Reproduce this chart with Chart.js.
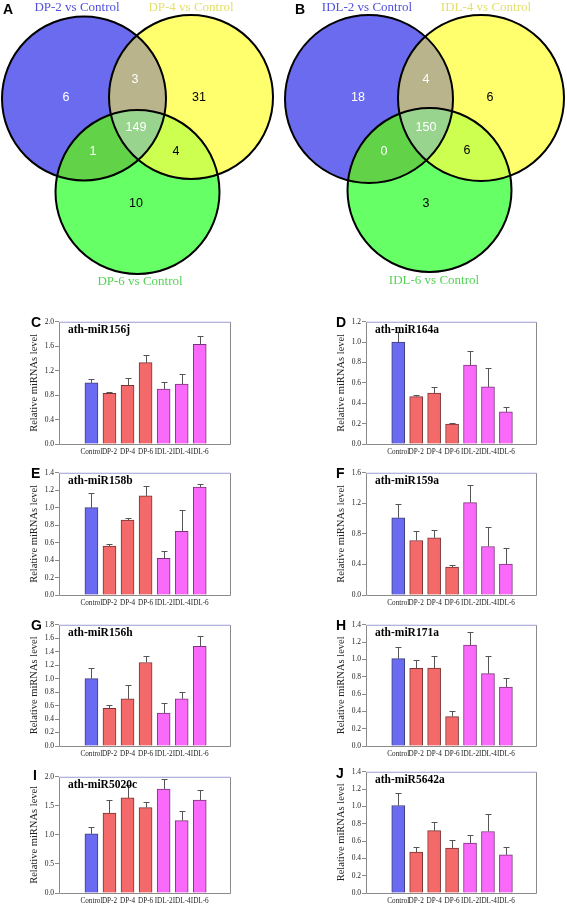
<!DOCTYPE html>
<html><head><meta charset="utf-8">
<script src="https://cdn.jsdelivr.net/npm/chart.js@4.4.1/dist/chart.umd.min.js"></script>
<style>
html,body{margin:0;padding:0;background:#fff;}
body{width:567px;height:907px;overflow:hidden;position:relative;}
canvas{position:absolute;}
.lt{position:absolute;font:bold 14px 'Liberation Sans',Arial,sans-serif;line-height:14px;color:#000;}
.vl{position:absolute;font:13px 'Liberation Serif','Times New Roman',serif;line-height:13px;white-space:nowrap;transform:translateX(-50%);}
</style></head><body>
<script>
// ---------- DATA ----------
const categories = ['Control','DP-2','DP-4','DP-6','IDL-2','IDL-4','IDL-6'];
const groups = [0,1,1,1,2,2,2];

// Venn counts: [only1, 1&2, only2, all, 1&3, 2&3, only3]
const vennCountsA = [6, 3, 31, 149, 1, 4, 10];
const vennCountsB = [18, 4, 6, 150, 0, 6, 3];
const vennSetsA = ['DP-2 vs Control','DP-4 vs Control','DP-6 vs Control'];
const vennSetsB = ['IDL-2 vs Control','IDL-4 vs Control','IDL-6 vs Control'];

const miR156j = [1.00, 0.83, 0.96, 1.33, 0.90, 0.98, 1.63];
const miR156jErr = [0.06, 0.02, 0.12, 0.12, 0.12, 0.16, 0.13];
const miR164a = [1.00, 0.465, 0.50, 0.195, 0.775, 0.56, 0.315];
const miR164aErr = [0.10, 0.02, 0.06, 0.015, 0.135, 0.185, 0.045];
const miR158b = [1.00, 0.56, 0.857, 1.135, 0.42, 0.73, 1.235];
const miR158bErr = [0.17, 0.02, 0.023, 0.115, 0.08, 0.245, 0.035];
const miR159a = [1.01, 0.713, 0.748, 0.366, 1.209, 0.635, 0.404];
const miR159aErr = [0.177, 0.122, 0.109, 0.024, 0.234, 0.252, 0.206];
const miR156h = [1.00, 0.56, 0.70, 1.24, 0.49, 0.70, 1.48];
const miR156hErr = [0.16, 0.045, 0.21, 0.09, 0.15, 0.10, 0.15];
const miR171a = [1.008, 0.896, 0.90, 0.34, 1.165, 0.835, 0.68];
const miR171aErr = [0.138, 0.10, 0.138, 0.06, 0.15, 0.205, 0.10];
const miR5020c = [1.017, 1.375, 1.636, 1.47, 1.79, 1.244, 1.597];
const miR5020cErr = [0.123, 0.225, 0.222, 0.10, 0.17, 0.171, 0.183];
const miR5642a = [1.01, 0.473, 0.72, 0.52, 0.577, 0.71, 0.44];
const miR5642aErr = [0.147, 0.057, 0.10, 0.087, 0.091, 0.199, 0.095];

const ticks20s4 = [0, 0.4, 0.8, 1.2, 1.6, 2.0];
const ticks12 = [0, 0.2, 0.4, 0.6, 0.8, 1.0, 1.2];
const ticks14 = [0, 0.2, 0.4, 0.6, 0.8, 1.0, 1.2, 1.4];
const ticks16s4 = [0, 0.4, 0.8, 1.2, 1.6];
const ticks18 = [0, 0.2, 0.4, 0.6, 0.8, 1.0, 1.2, 1.4, 1.6, 1.8];
const ticks20s5 = [0, 0.5, 1.0, 1.5, 2.0];

// ---------- STYLE / LAYOUT ----------
const SERIF = "'Liberation Serif','Times New Roman',serif";
const SANS = "'Liberation Sans',Arial,sans-serif";
const barFill = ['#6b6bf2', '#f46a6a', '#fa6afa'];
const barEdge = ['#40407a', '#7a3434', '#7a347a'];

function addDiv(cls, text, x, y, color) {
  const d = document.createElement('div');
  d.className = cls; d.textContent = text;
  d.style.left = x + 'px'; d.style.top = y + 'px';
  if (color) d.style.color = color;
  document.body.appendChild(d);
}
function addCanvas(x, y, w, h) {
  const c = document.createElement('canvas');
  c.width = w; c.height = h;
  c.style.left = x + 'px'; c.style.top = y + 'px';
  c.style.width = w + 'px'; c.style.height = h + 'px';
  document.body.appendChild(c);
  return c;
}

// ---------- VENN ----------
const vennPlugin = {
  id: 'vennDraw',
  afterDatasetsDraw(chart, args, opts) {
    const ctx = chart.ctx, xs = chart.scales.x, ys = chart.scales.y;
    const circ = opts.geom.map(g => ({
      x: xs.getPixelForValue(g[0]), y: ys.getPixelForValue(g[1]),
      r: xs.getPixelForValue(g[0] + g[2]) - xs.getPixelForValue(g[0])
    }));
    const path = (c) => { ctx.beginPath(); ctx.arc(c.x, c.y, c.r, 0, Math.PI * 2); };
    const fillC = (c, col) => { path(c); ctx.fillStyle = col; ctx.fill(); };
    ctx.save();
    fillC(circ[0], '#6b6bf0');
    fillC(circ[1], '#ffff6e');
    fillC(circ[2], '#66ff66');
    ctx.save(); path(circ[0]); ctx.clip(); fillC(circ[1], '#b9b48c'); ctx.restore();
    ctx.save(); path(circ[0]); ctx.clip(); fillC(circ[2], '#62d248'); ctx.restore();
    ctx.save(); path(circ[1]); ctx.clip(); fillC(circ[2], '#cdff50'); ctx.restore();
    ctx.save(); path(circ[0]); ctx.clip(); path(circ[1]); ctx.clip(); fillC(circ[2], '#98d48e'); ctx.restore();
    ctx.lineWidth = 2; ctx.strokeStyle = '#000';
    circ.forEach(c => { path(c); ctx.stroke(); });
    ctx.font = '12.5px ' + SANS;
    ctx.textAlign = 'center'; ctx.textBaseline = 'middle';
    const white = [true, true, false, true, true, false, false];
    opts.counts.forEach((v, i) => {
      const p = opts.pos[i];
      ctx.fillStyle = white[i] ? '#ffffff' : '#000000';
      ctx.fillText(String(v), xs.getPixelForValue(p[0]), ys.getPixelForValue(p[1]));
    });
    ctx.restore();
  }
};

function makeVenn(left, counts, geom, pos) {
  const cv = addCanvas(left, 0, 283, 290);
  new Chart(cv, {
    type: 'scatter',
    data: { datasets: [{ data: geom.map(g => ({ x: g[0], y: g[1] })), pointRadius: 0 }] },
    options: {
      responsive: false, animation: false, devicePixelRatio: 1,
      layout: { padding: 0 },
      plugins: { legend: { display: false }, tooltip: { enabled: false },
        vennDraw: { geom, counts, pos } },
      scales: {
        x: { type: 'linear', display: false, min: 0, max: 283 },
        y: { type: 'linear', display: false, min: 0, max: 290, reverse: true }
      }
    },
    plugins: [vennPlugin]
  });
}

makeVenn(0, vennCountsA,
  [[84, 98.5, 82], [191, 97, 82], [137.5, 192, 82]],
  [[66, 98], [135, 80], [199, 98], [136, 128], [93, 152], [176, 152], [136, 204]]);
makeVenn(283, vennCountsB,
  [[86, 99, 84], [198, 98, 83], [146.5, 190, 82]],
  [[75, 98], [143, 80], [207, 98], [143, 128], [101, 152], [184, 151], [143, 204]]);

addDiv('lt', 'A', 3, 2);
addDiv('lt', 'B', 295, 2);
addDiv('vl', vennSetsA[0], 77, 0, '#5050dc');
addDiv('vl', vennSetsA[1], 191, 0, '#e4de6a');
addDiv('vl', vennSetsA[2], 140, 273.5, '#55d255');
addDiv('vl', vennSetsB[0], 367, 0, '#5050dc');
addDiv('vl', vennSetsB[1], 486, 0, '#e4de6a');
addDiv('vl', vennSetsB[2], 434, 273, '#55d255');

// ---------- BARS ----------
const framePlugin = {
  id: 'frameBox',
  afterDraw(chart) {
    const a = chart.chartArea, ctx = chart.ctx;
    ctx.save();
    ctx.lineWidth = 1;
    ctx.strokeStyle = '#8a8a8a';
    ctx.beginPath();
    ctx.moveTo(a.left + 0.5, a.top + 0.5); ctx.lineTo(a.left + 0.5, a.bottom + 0.5);
    ctx.lineTo(a.right + 0.5, a.bottom + 0.5); ctx.lineTo(a.right + 0.5, a.top + 0.5);
    ctx.stroke();
    ctx.strokeStyle = '#9a9ad2';
    ctx.beginPath(); ctx.moveTo(a.left + 0.5, a.top + 0.5); ctx.lineTo(a.right + 0.5, a.top + 0.5); ctx.stroke();
    ctx.restore();
  }
};
const errPlugin = {
  id: 'errBars',
  afterDatasetsDraw(chart, args, opts) {
    const ctx = chart.ctx, ys = chart.scales.y;
    const meta = chart.getDatasetMeta(0);
    const vals = chart.data.datasets[0].data;
    ctx.save();
    ctx.strokeStyle = '#555'; ctx.lineWidth = 1;
    meta.data.forEach((el, i) => {
      const x = Math.round(el.x) + 0.5;
      const y0 = el.y;
      const y1 = Math.round(ys.getPixelForValue(vals[i].y + opts.errs[i])) + 0.5;
      ctx.beginPath();
      ctx.moveTo(x, y0); ctx.lineTo(x, y1);
      ctx.moveTo(x - 3, y1); ctx.lineTo(x + 3, y1);
      ctx.stroke();
    });
    ctx.restore();
  }
};
const titlePlugin = {
  id: 'panelTitle',
  afterDraw(chart, args, opts) {
    const ctx = chart.ctx, a = chart.chartArea;
    ctx.save();
    ctx.font = 'bold 11.5px ' + SERIF;
    ctx.fillStyle = '#000'; ctx.textAlign = 'left'; ctx.textBaseline = 'alphabetic';
    ctx.fillText(opts.text, a.left + 9, a.top + 11.5);
    ctx.restore();
  }
};

function makeBar(plotLeft, plotTop, plotW, plotH, title, values, errs, yTicks) {
  const W = 48 + plotW + 4, H = 4 + plotH + 16;
  const cv = addCanvas(plotLeft - 48, plotTop - 4, W, H);
  new Chart(cv, {
    type: 'bar',
    data: { datasets: [{
      data: values.map((v, i) => ({ x: i, y: v })),
      backgroundColor: groups.map(g => barFill[g]),
      borderColor: groups.map(g => barEdge[g]),
      borderWidth: 1, borderSkipped: 'start', barThickness: 13
    }] },
    options: {
      responsive: false, animation: false, devicePixelRatio: 1,
      layout: { padding: { top: 4, right: 4, left: 0, bottom: 0 } },
      plugins: { legend: { display: false }, tooltip: { enabled: false },
        errBars: { errs }, panelTitle: { text: title } },
      scales: {
        x: {
          type: 'linear', min: -1.12, max: 7.0,
          afterBuildTicks: s => { s.ticks = categories.map((c, i) => ({ value: i })); },
          afterFit: s => { s.height = 16; },
          ticks: { callback: v => categories[v] ?? '', autoSkip: false, maxRotation: 0,
            padding: 5, color: '#222', font: { family: SERIF, size: 7.2, lineHeight: 1 } },
          grid: { display: false, drawTicks: false },
          border: { display: false }
        },
        y: {
          type: 'linear', min: 0, max: yTicks[yTicks.length - 1],
          afterBuildTicks: s => { s.ticks = yTicks.map(v => ({ value: v })); },
          afterFit: s => { s.width = 48; },
          ticks: { callback: v => Number(v).toFixed(1), padding: 1, color: '#222',
            font: { family: SERIF, size: 7.5, lineHeight: 1 } },
          grid: { drawOnChartArea: false, tickLength: 4, color: '#8a8a8a' },
          border: { display: false },
          title: { display: true, text: 'Relative miRNAs level', color: '#222',
            font: { family: SERIF, size: 10.5 }, padding: { top: 17, bottom: 0 } }
        }
      }
    },
    plugins: [framePlugin, errPlugin, titlePlugin]
  });
}

makeBar(59, 321, 171, 123, 'ath-miR156j', miR156j, miR156jErr, ticks20s4);
makeBar(366, 321, 170, 123, 'ath-miR164a', miR164a, miR164aErr, ticks12);
makeBar(59, 472, 171, 123, 'ath-miR158b', miR158b, miR158bErr, ticks14);
makeBar(366, 472, 170, 123, 'ath-miR159a', miR159a, miR159aErr, ticks16s4);
makeBar(59, 624, 171, 122, 'ath-miR156h', miR156h, miR156hErr, ticks18);
makeBar(366, 624, 170, 122, 'ath-miR171a', miR171a, miR171aErr, ticks14);
makeBar(59, 776, 171, 117, 'ath-miR5020c', miR5020c, miR5020cErr, ticks20s5);
makeBar(366, 771, 170, 122, 'ath-miR5642a', miR5642a, miR5642aErr, ticks14);

addDiv('lt', 'C', 31, 315);
addDiv('lt', 'D', 336, 315);
addDiv('lt', 'E', 31, 466);
addDiv('lt', 'F', 336, 466);
addDiv('lt', 'G', 31, 618);
addDiv('lt', 'H', 336, 618);
addDiv('lt', 'I', 33, 768);
addDiv('lt', 'J', 336, 766);
</script>
</body></html>
